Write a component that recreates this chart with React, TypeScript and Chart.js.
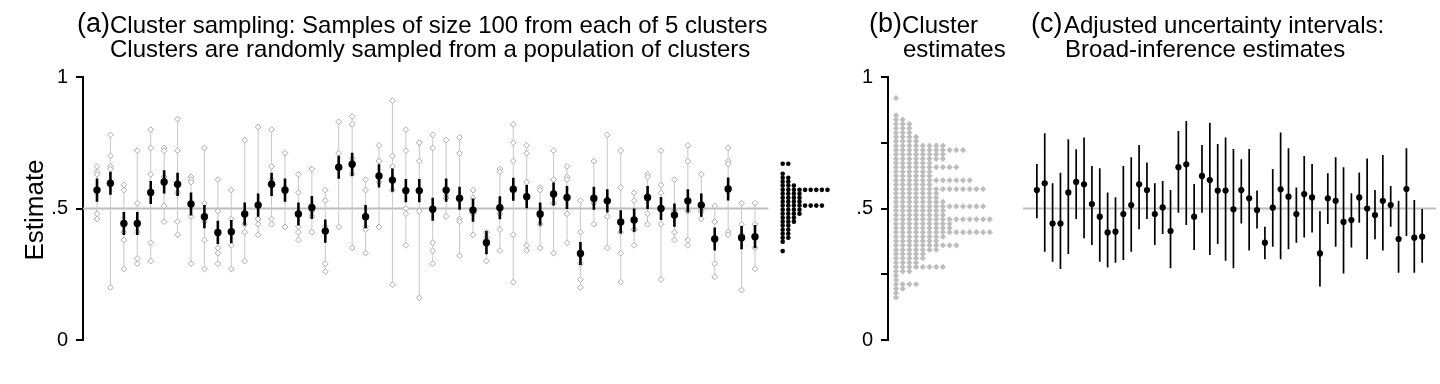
import React, { useEffect, useRef } from "react";
import { Chart, registerables } from "chart.js";

Chart.register(...registerables);

const FONT = "'Liberation Sans', Arial, Helvetica, sans-serif";

// ---------- data ----------
const sampleMeans = [
  0.570, 0.596, 0.443, 0.443, 0.561, 0.601, 0.592, 0.517, 0.469, 0.409,
  0.412, 0.479, 0.513, 0.592, 0.570, 0.479, 0.504, 0.414, 0.657, 0.668,
  0.469, 0.624, 0.608, 0.568, 0.568, 0.497, 0.570, 0.539, 0.494, 0.370,
  0.503, 0.573, 0.545, 0.479, 0.555, 0.542, 0.329, 0.539, 0.529, 0.449,
  0.456, 0.542, 0.500, 0.475, 0.529, 0.513, 0.384, 0.574, 0.389, 0.393,
];

const clusterEstimates: number[][] = [
  [0.66, 0.64, 0.63, 0.48, 0.46], [0.78, 0.70, 0.66, 0.65, 0.20],
  [0.59, 0.57, 0.41, 0.38, 0.27], [0.72, 0.52, 0.41, 0.31, 0.29],
  [0.80, 0.73, 0.63, 0.37, 0.30], [0.73, 0.72, 0.62, 0.51, 0.45],
  [0.84, 0.72, 0.56, 0.45, 0.40], [0.62, 0.61, 0.60, 0.47, 0.29],
  [0.73, 0.52, 0.45, 0.38, 0.27], [0.61, 0.49, 0.35, 0.33, 0.29],
  [0.57, 0.46, 0.41, 0.36, 0.27], [0.76, 0.48, 0.44, 0.41, 0.30],
  [0.81, 0.46, 0.46, 0.44, 0.40], [0.80, 0.66, 0.61, 0.46, 0.44],
  [0.71, 0.58, 0.57, 0.56, 0.43], [0.63, 0.56, 0.43, 0.41, 0.38],
  [0.65, 0.50, 0.49, 0.47, 0.41], [0.57, 0.53, 0.43, 0.29, 0.26],
  [0.83, 0.71, 0.66, 0.66, 0.43], [0.85, 0.82, 0.69, 0.63, 0.35],
  [0.61, 0.57, 0.43, 0.42, 0.33], [0.74, 0.68, 0.68, 0.60, 0.43],
  [0.91, 0.70, 0.66, 0.57, 0.21], [0.80, 0.72, 0.50, 0.48, 0.36],
  [0.75, 0.75, 0.68, 0.49, 0.16], [0.78, 0.73, 0.37, 0.34, 0.29],
  [0.76, 0.55, 0.54, 0.54, 0.47], [0.77, 0.71, 0.46, 0.45, 0.32],
  [0.57, 0.54, 0.48, 0.48, 0.40], [0.41, 0.39, 0.38, 0.38, 0.30],
  [0.65, 0.64, 0.48, 0.42, 0.34], [0.82, 0.75, 0.68, 0.40, 0.22],
  [0.74, 0.71, 0.60, 0.36, 0.34], [0.58, 0.57, 0.47, 0.44, 0.35],
  [0.72, 0.61, 0.61, 0.52, 0.33], [0.66, 0.62, 0.61, 0.48, 0.37],
  [0.53, 0.41, 0.29, 0.23, 0.20], [0.68, 0.53, 0.53, 0.52, 0.44],
  [0.78, 0.53, 0.53, 0.47, 0.35], [0.72, 0.58, 0.41, 0.33, 0.22],
  [0.56, 0.53, 0.42, 0.42, 0.36], [0.63, 0.62, 0.55, 0.48, 0.44],
  [0.72, 0.59, 0.56, 0.44, 0.23], [0.61, 0.49, 0.49, 0.41, 0.38],
  [0.74, 0.68, 0.49, 0.38, 0.36], [0.63, 0.50, 0.49, 0.49, 0.46],
  [0.51, 0.45, 0.45, 0.29, 0.24], [0.73, 0.68, 0.67, 0.41, 0.40],
  [0.52, 0.44, 0.40, 0.40, 0.19], [0.52, 0.44, 0.39, 0.35, 0.27],
];

// half-width of the black intervals in panel (a)
const intervalHalfWidthA = 0.044;

// panel (c) broad-inference intervals
const adjustedHigh = [
  0.669, 0.786, 0.596, 0.636, 0.763, 0.725, 0.770, 0.662, 0.653, 0.561,
  0.543, 0.662, 0.695, 0.741, 0.675, 0.596, 0.605, 0.570, 0.795, 0.833,
  0.593, 0.741, 0.826, 0.745, 0.770, 0.726, 0.687, 0.726, 0.568, 0.431,
  0.650, 0.789, 0.729, 0.580, 0.700, 0.669, 0.490, 0.634, 0.695, 0.657,
  0.558, 0.637, 0.690, 0.570, 0.703, 0.586, 0.529, 0.729, 0.532, 0.498,
];
const adjustedLow = [
  0.463, 0.336, 0.298, 0.270, 0.327, 0.460, 0.387, 0.361, 0.298, 0.276,
  0.294, 0.304, 0.336, 0.421, 0.460, 0.361, 0.403, 0.273, 0.484, 0.437,
  0.342, 0.484, 0.323, 0.365, 0.301, 0.273, 0.443, 0.340, 0.424, 0.307,
  0.355, 0.307, 0.345, 0.370, 0.390, 0.409, 0.203, 0.441, 0.355, 0.253,
  0.352, 0.446, 0.307, 0.383, 0.340, 0.431, 0.256, 0.395, 0.256, 0.294,
];

// dot plot of the sample means (right of panel a): row value and dots in row
const meanDotValues = [
  0.670, 0.632, 0.617, 0.602, 0.587, 0.571, 0.556, 0.541, 0.526, 0.511,
  0.495, 0.480, 0.465, 0.450, 0.435, 0.419, 0.404, 0.389, 0.374, 0.338,
];
const meanDotCounts = [2, 1, 2, 2, 3, 9, 4, 4, 4, 8, 4, 4, 3, 3, 2, 2, 2, 2, 1, 1];

// panel (b) stacked cluster estimates: row value and dots in row
const clusterDotValues = [
  0.920, 0.854, 0.838, 0.821, 0.805, 0.788, 0.772, 0.756, 0.739, 0.722,
  0.706, 0.689, 0.673, 0.657, 0.640, 0.624, 0.607, 0.591, 0.574, 0.558,
  0.541, 0.525, 0.508, 0.492, 0.475, 0.459, 0.442, 0.426, 0.410, 0.393,
  0.376, 0.360, 0.343, 0.327, 0.311, 0.294, 0.278, 0.261, 0.244, 0.228,
  0.212, 0.195, 0.179, 0.162,
];
const clusterDotCounts = [
  1, 1, 2, 3, 3, 3, 4, 4, 8, 11,
  8, 8, 6, 10, 6, 6, 12, 6, 14, 7,
  7, 8, 14, 8, 8, 15, 9, 9, 15, 8,
  7, 10, 7, 5, 5, 4, 8, 3, 1, 1,
  4, 2, 1, 1,
];

const referenceValue = 0.5;
const yTicksA = [0, 0.5, 1];
const yTicksB = [0, 0.25, 0.5, 0.75, 1];

// ---------- helpers ----------
function tickLabel(v: number): string {
  if (v === 0) return "0";
  if (v === 1) return "1";
  if (v === 0.5) return ".5";
  return "";
}

type Pt = { x: number; y: number | null };

function segments(lows: number[], highs: number[]): Pt[] {
  const out: Pt[] = [];
  lows.forEach((lo, i) => {
    out.push({ x: i, y: lo }, { x: i, y: highs[i] }, { x: i, y: null });
  });
  return out;
}

function stackedDots(values: number[], counts: number[]): Pt[] {
  const out: Pt[] = [];
  values.forEach((v, r) => {
    for (let c = 0; c < counts[r]; c++) out.push({ x: c, y: v });
  });
  return out;
}

function yAxis(ticks: number[], width: number) {
  return {
    type: "linear" as const,
    position: "left" as const,
    min: 0,
    max: 1,
    afterFit: (s: any) => {
      s.width = width;
    },
    afterBuildTicks: (s: any) => {
      s.ticks = ticks.map((v) => ({ value: v }));
    },
    ticks: {
      callback: (v: any) => tickLabel(Number(v)),
      color: "#000",
      font: { family: FONT, size: 20 },
      padding: 8,
      autoSkip: false,
      maxRotation: 0,
    },
    grid: {
      drawOnChartArea: false,
      drawTicks: true,
      tickLength: 7,
      color: "#000",
      lineWidth: 2,
    },
    border: { display: true, color: "#000", width: 2 },
  };
}

const baseOptions = {
  responsive: false,
  animation: false as const,
  devicePixelRatio: 1,
  events: [] as any[],
  plugins: { legend: { display: false }, tooltip: { enabled: false }, title: { display: false } },
};

// pixel geometry of panels (axis ranges)
const X_MIN_A = -1.0426;
const X_MAX_A = 56.074;
const X2_MIN_A = -124.95;
const X2_MAX_A = 12.02;
const X_MIN_B = -1.194;
const X_MAX_B = 15.52;
const X_MIN_C = -1.7635;
const X_MAX_C = 50.76;

export default function App() {
  const refA = useRef<HTMLCanvasElement>(null);
  const refB = useRef<HTMLCanvasElement>(null);
  const refC = useRef<HTMLCanvasElement>(null);

  useEffect(() => {
    const mins = clusterEstimates.map((c) => Math.min(...c));
    const maxs = clusterEstimates.map((c) => Math.max(...c));
    const clusterPts: Pt[] = [];
    clusterEstimates.forEach((c, i) => c.forEach((v) => clusterPts.push({ x: i, y: v })));
    const meanPts = sampleMeans.map((m, i) => ({ x: i, y: m }));

    const chartA = new Chart(refA.current!, {
      type: "scatter",
      data: {
        datasets: [
          {
            data: [
              { x: X_MIN_A, y: referenceValue },
              { x: sampleMeans.length, y: referenceValue },
            ],
            showLine: true,
            borderColor: "#bebebe",
            borderWidth: 2,
            pointRadius: 0,
            order: 6,
          } as any,
          {
            data: segments(mins, maxs),
            showLine: true,
            spanGaps: false,
            borderColor: "#c8c8c8",
            borderWidth: 1,
            pointRadius: 0,
            order: 5,
          },
          {
            data: clusterPts,
            pointStyle: "rectRot",
            pointRadius: 2.9,
            pointBorderWidth: 1,
            pointBorderColor: "#acacac",
            pointBackgroundColor: "#ffffff",
            order: 4,
          },
          {
            data: segments(
              sampleMeans.map((m) => m - intervalHalfWidthA),
              sampleMeans.map((m) => m + intervalHalfWidthA)
            ),
            showLine: true,
            spanGaps: false,
            borderColor: "#000",
            borderWidth: 2.6,
            pointRadius: 0,
            order: 3,
          },
          {
            data: meanPts,
            pointRadius: 3.7,
            pointBorderWidth: 0,
            pointBackgroundColor: "#000",
            order: 2,
          },
          {
            data: stackedDots(meanDotValues, meanDotCounts),
            xAxisID: "x2",
            pointRadius: 2.3,
            pointBorderWidth: 0,
            pointBackgroundColor: "#000",
            order: 1,
          },
        ] as any,
      },
      options: {
        ...baseOptions,
        layout: { padding: { left: 0, right: 1440 - 850, top: 77, bottom: 44 } },
        scales: {
          x: { type: "linear", min: X_MIN_A, max: X_MAX_A, display: false },
          x2: { type: "linear", min: X2_MIN_A, max: X2_MAX_A, display: false },
          y: yAxis(yTicksA, 83),
        },
      } as any,
    });

    const chartB = new Chart(refB.current!, {
      type: "scatter",
      data: {
        datasets: [
          {
            data: stackedDots(clusterDotValues, clusterDotCounts),
            pointStyle: "rectRot",
            pointRadius: 3.1,
            pointBorderWidth: 0,
            pointBackgroundColor: "#bdbdbd",
          },
        ] as any,
      },
      options: {
        ...baseOptions,
        layout: { padding: { left: 848, right: 440, top: 77, bottom: 44 } },
        scales: {
          x: { type: "linear", min: X_MIN_B, max: X_MAX_B, display: false },
          y: yAxis(yTicksB, 40),
        },
      } as any,
    });

    const chartC = new Chart(refC.current!, {
      type: "scatter",
      data: {
        datasets: [
          {
            data: [
              { x: X_MIN_C, y: referenceValue },
              { x: X_MAX_C, y: referenceValue },
            ],
            showLine: true,
            borderColor: "#bebebe",
            borderWidth: 2,
            pointRadius: 0,
            order: 3,
          },
          {
            data: segments(adjustedLow, adjustedHigh),
            showLine: true,
            spanGaps: false,
            borderColor: "#000",
            borderWidth: 1.7,
            pointRadius: 0,
            order: 2,
          },
          {
            data: meanPts,
            pointRadius: 3.1,
            pointBorderWidth: 0,
            pointBackgroundColor: "#000",
            order: 1,
          },
        ] as any,
      },
      options: {
        ...baseOptions,
        layout: { padding: { left: 1023, right: 0, top: 77, bottom: 44 } },
        scales: {
          x: { type: "linear", min: X_MIN_C, max: X_MAX_C, display: false },
          y: { type: "linear", min: 0, max: 1, display: false },
        },
      } as any,
    });

    return () => {
      chartA.destroy();
      chartB.destroy();
      chartC.destroy();
    };
  }, []);

  const canvasStyle: React.CSSProperties = { position: "absolute", left: 0, top: 0 };
  const text = (
    content: string,
    left: number,
    baseline: number,
    size: number
  ): React.ReactNode => (
    <div
      key={content + left + baseline}
      style={{
        position: "absolute",
        left,
        top: baseline - 0.8465 * size,
        fontSize: size,
        lineHeight: `${size}px`,
        whiteSpace: "nowrap",
        color: "#000",
        fontFamily: FONT,
      }}
    >
      {content}
    </div>
  );

  return (
    <div
      style={{
        position: "fixed",
        left: 0,
        top: 0,
        width: 1440,
        height: 384,
        background: "#fff",
        overflow: "hidden",
      }}
    >
      <canvas ref={refA} width={1440} height={384} style={canvasStyle} />
      <canvas ref={refB} width={1440} height={384} style={canvasStyle} />
      <canvas ref={refC} width={1440} height={384} style={canvasStyle} />
      {text("(a)", 77, 33, 27)}
      {text("Cluster sampling: Samples of size 100 from each of 5 clusters", 110, 33, 24)}
      {text("Clusters are randomly sampled from a population of clusters", 110, 57, 24)}
      {text("(b)", 869, 33, 27)}
      {text("Cluster", 902, 33, 24)}
      {text("estimates", 903, 57, 24)}
      {text("(c)", 1031, 33, 27)}
      {text("Adjusted uncertainty intervals:", 1064, 33, 24)}
      {text("Broad-inference estimates", 1065, 57, 24)}
      <div
        style={{
          position: "absolute",
          left: 34 - 100,
          top: 210 - 13,
          width: 200,
          height: 26,
          lineHeight: "26px",
          fontSize: 26,
          textAlign: "center",
          fontFamily: FONT,
          color: "#000",
          transform: "rotate(-90deg)",
          transformOrigin: "50% 50%",
          whiteSpace: "nowrap",
        }}
      >
        Estimate
      </div>
    </div>
  );
}
